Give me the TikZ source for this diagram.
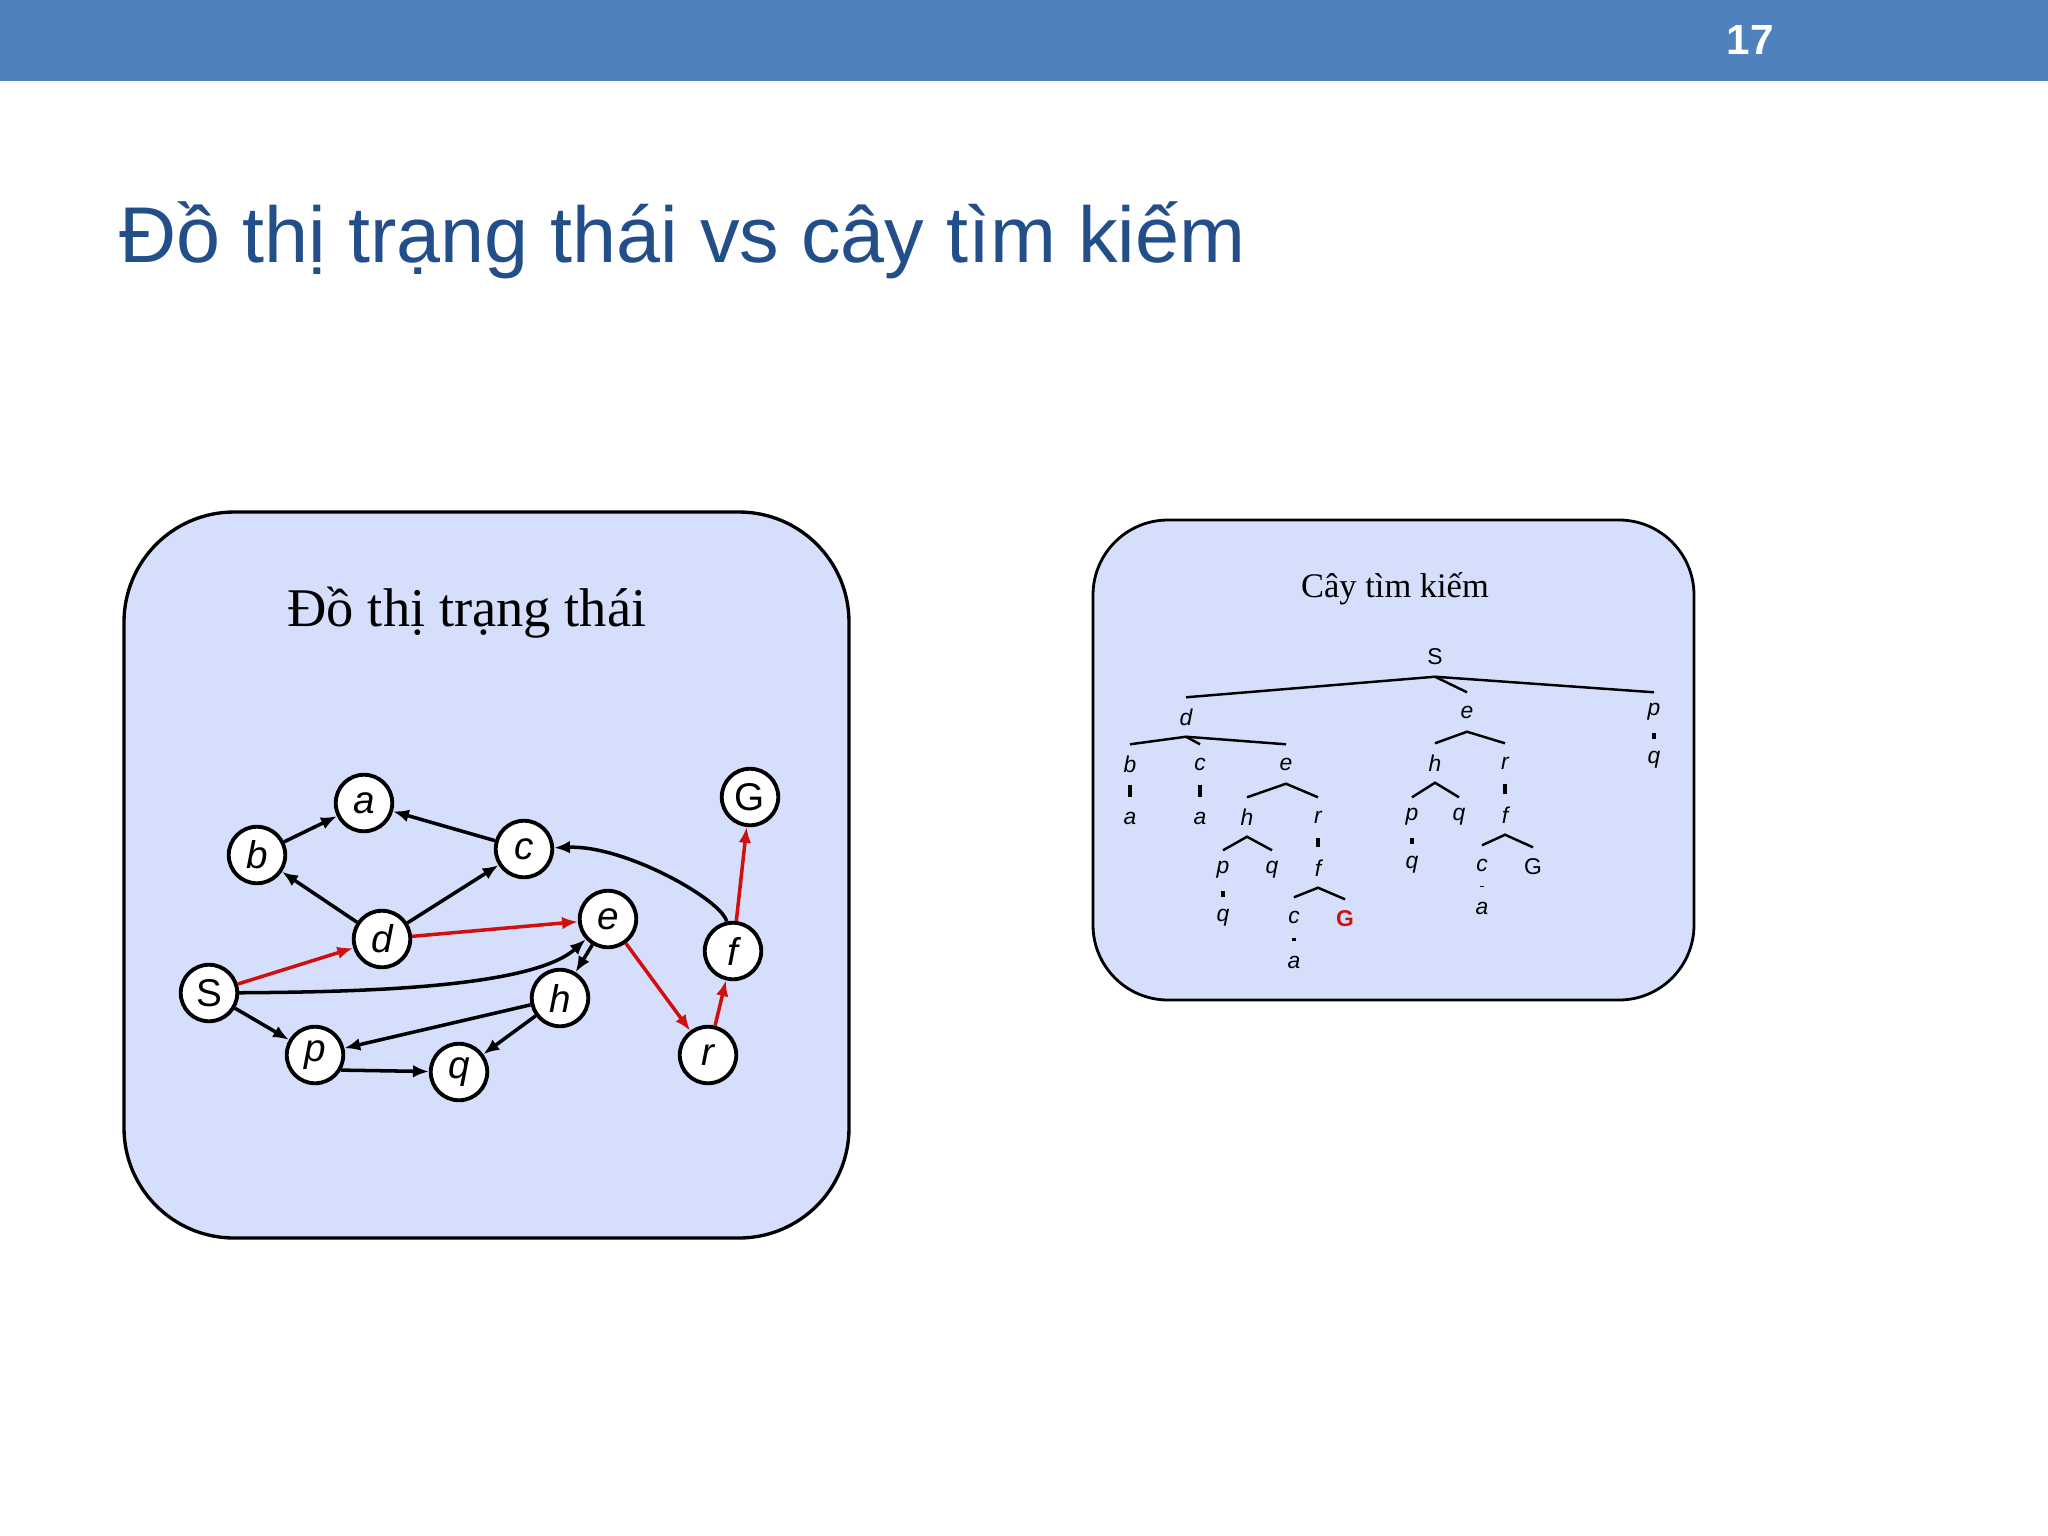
\documentclass[tikz,border=0pt]{standalone}
\usepackage{fontspec}
\setmainfont{Liberation Serif}
\newfontfamily\arialfont{Liberation Sans}
\usepackage{xcolor}
\usetikzlibrary{arrows.meta}
\definecolor{headblue}{RGB}{79,129,189}
\definecolor{titleblue}{RGB}{34,78,138}
\definecolor{panelblue}{RGB}{213,223,251}
\definecolor{pathred}{RGB}{208,16,16}

\begin{document}
\begin{tikzpicture}[x=0.01cm, y=-0.01cm,
    panel/.style={draw=black, fill=panelblue},
    gnode/.style={circle, draw, line width=1.1pt, fill=white, minimum size=0.565cm,
      inner sep=0pt, font=\arialfont\itshape\fontsize{11}{13}\selectfont},
    garc/.style={line width=1pt, -{Latex[length=4.5pt,width=3.6pt]}},
    redarc/.style={garc, draw=pathred},
    tnode/.style={inner sep=0pt, minimum height=0.38cm,
      font=\arialfont\itshape\fontsize{6.5}{7.5}\selectfont},
    tlink/.style={line width=0.7pt},
    tdot/.style={line width=1.1pt, shorten <=0.3pt, shorten >=0.3pt}]
  \useasboundingbox (0,0) rectangle (2048,1536);

  % slide header and title
  \fill[headblue] (0,0) rectangle (2048,81);
  \node[text=white, font=\arialfont\bfseries\fontsize{12}{14}\selectfont] (pagenum) at (1750,40) {17};
  \node[anchor=base west, inner sep=0pt, text=titleblue,
    font=\arialfont\fontsize{22.5}{27}\selectfont] (title) at (119,262) {Đồ thị trạng thái vs cây tìm kiếm};

  % left panel: state graph
  \draw[panel, line width=0.95pt, rounded corners=1.1cm] (124,512) rectangle (849,1238);
  \node[anchor=base, inner sep=0pt, font=\fontsize{15.5}{18}\selectfont] (graphtitle) at (467,626) {Đồ thị trạng thái};

  \node[gnode] (a) at (364,803) {a};
  \node[gnode] (b) at (257,855) {b};
  \node[gnode] (c) at (524,849) {c};
  \node[gnode] (G) at (750,797) {\upshape G};
  \node[gnode] (d) at (382,939) {d};
  \node[gnode] (e) at (608,919) {e};
  \node[gnode] (f) at (733,951) {f};
  \node[gnode] (S) at (209,993) {\upshape S};
  \node[gnode] (h) at (560,998) {h};
  \node[gnode] (p) at (315,1055) {p};
  \node[gnode] (q) at (459,1072) {q};
  \node[gnode] (r) at (708,1055) {r};

  \draw[garc] (b) -- (a);
  \draw[garc] (c) -- (a);
  \draw[garc] (d) -- (b);
  \draw[garc] (d) -- (c);
  \draw[garc] (f) .. controls (722,900) and (625,845) .. (c);
  \draw[garc] (S) .. controls (340,992) and (530,990) .. (e);
  \draw[garc] (e) -- (h);
  \draw[garc] (h) -- (p);
  \draw[garc] (h) -- (q);
  \draw[garc] (S) -- (p);
  \draw[garc] (p.-30) -- (q);
  \draw[redarc] (S) -- (d);
  \draw[redarc] (d) -- (e);
  \draw[redarc] (e) -- (r);
  \draw[redarc] (r) -- (f);
  \draw[redarc] (f) -- (G);

  % right panel: search tree
  \draw[panel, line width=0.8pt, rounded corners=0.75cm] (1093,520) rectangle (1694,1000);
  \node[anchor=base, inner sep=0pt, font=\fontsize{9.8}{12}\selectfont] (treetitle) at (1395,597) {Cây tìm kiếm};

  \node[tnode] (tS) at (1435,657) {\upshape S};
  \node[tnode] (tSd) at (1186,717) {d};
  \node[tnode] (tSe) at (1467,712) {e};
  \node[tnode] (tSp) at (1654,712) {p};
  \node[tnode] (tSdb) at (1130,764) {b};
  \node[tnode] (tSdc) at (1200,764) {c};
  \node[tnode] (tSde) at (1286,764) {e};
  \node[tnode] (tSeh) at (1435,763) {h};
  \node[tnode] (tSer) at (1505,763) {r};
  \node[tnode] (tSpq) at (1654,760) {q};
  \node[tnode] (tSdba) at (1130,818) {a};
  \node[tnode] (tSdca) at (1200,818) {a};
  \node[tnode] (tSdeh) at (1247,817) {h};
  \node[tnode] (tSder) at (1318,817) {r};
  \node[tnode] (tSehp) at (1412,817) {p};
  \node[tnode] (tSehq) at (1459,817) {q};
  \node[tnode] (tSerf) at (1505,815) {f};
  \node[tnode] (tSdehp) at (1223,870) {p};
  \node[tnode] (tSdehq) at (1272,870) {q};
  \node[tnode] (tSderf) at (1318,868) {f};
  \node[tnode] (tSehpq) at (1412,865) {q};
  \node[tnode] (tSerfc) at (1482,865) {c};
  \node[tnode] (tSerfG) at (1533,867) {\upshape G};
  \node[tnode] (tSdehpq) at (1223,918) {q};
  \node[tnode] (tSderfc) at (1294,917) {c};
  \node[tnode, text=pathred] (tSderfG) at (1345,919) {\upshape\bfseries G};
  \node[tnode] (tSerfca) at (1482,908) {a};
  \node[tnode] (tSderfca) at (1294,962) {a};

  \draw[tlink] (tSd.north) -- (tS.south) -- (tSp.north);
  \draw[tlink] (tS.south) -- (tSe.north);
  \draw[tlink] (tSdb.north) -- (tSd.south) -- (tSde.north);
  \draw[tlink] (tSd.south) -- (tSdc.north);
  \draw[tlink] (tSeh.north) -- (tSe.south) -- (tSer.north);
  \draw[tlink] (tSdeh.north) -- (tSde.south) -- (tSder.north);
  \draw[tlink] (tSehp.north) -- (tSeh.south) -- (tSehq.north);
  \draw[tlink] (tSdehp.north) -- (tSdeh.south) -- (tSdehq.north);
  \draw[tlink] (tSerfc.north) -- (tSerf.south) -- (tSerfG.north);
  \draw[tlink] (tSderfc.north) -- (tSderf.south) -- (tSderfG.north);

  \draw[tdot] (tSp) -- (tSpq);
  \draw[tdot] (tSdb) -- (tSdba);
  \draw[tdot] (tSdc) -- (tSdca);
  \draw[tdot] (tSer) -- (tSerf);
  \draw[tdot] (tSder) -- (tSderf);
  \draw[tdot] (tSehp) -- (tSehpq);
  \draw[tdot] (tSdehp) -- (tSdehpq);
  \draw[tdot] (tSerfc) -- (tSerfca);
  \draw[tdot] (tSderfc) -- (tSderfca);
\end{tikzpicture}
\end{document}
